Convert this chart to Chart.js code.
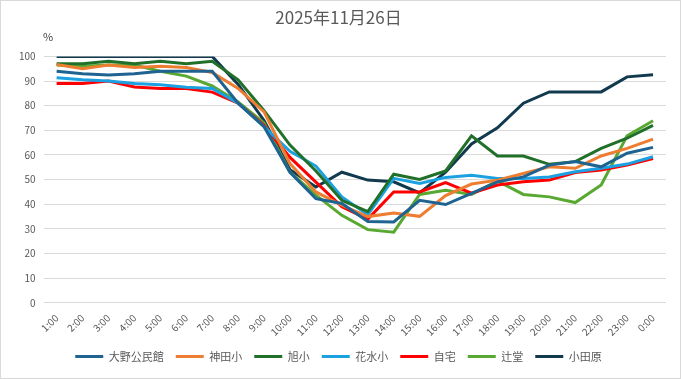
<!DOCTYPE html>
<html>
<head>
<meta charset="utf-8">
<script src="https://cdn.jsdelivr.net/npm/chart.js@4"></script>
<style>
  body { margin: 0; background: #fff; }
  #wrap { width: 681px; height: 379px; box-sizing: border-box; border: 1px solid #d9d9d9; }
</style>
</head>
<body>
<div id="wrap"><canvas id="chart" width="679" height="377"></canvas></div>
<script>
// hours along the x axis
var hours = ['1:00','2:00','3:00','4:00','5:00','6:00','7:00','8:00','9:00','10:00','11:00','12:00',
             '13:00','14:00','15:00','16:00','17:00','18:00','19:00','20:00','21:00','22:00','23:00','0:00']

var names = ['大野公民館', '神田小', '旭小', '花水小', '自宅', '辻堂', '小田原']

var ono      = [94, 93, 92.5, 93, 94, 94, 94, 81, 71.5, 53, 42.3, 40.3, 33, 32.8, 41.6, 39.9, 44.4, 49.1, 51.1, 55.9, 57.3, 55.2, 60.7, 63.1]
var kanda    = [96.7, 95, 96.5, 95.5, 96, 95.5, 93.5, 87, 77.5, 56.5, 45, 39.6, 35, 36.5, 35.1, 43.5, 48.2, 49.8, 52.5, 55.2, 54.6, 59.6, 62.7, 66.4]
var asahi    = [97, 97, 98, 97, 98, 97, 98, 90.5, 78, 64, 53.5, 41.6, 37, 52.2, 50.1, 53.5, 67.8, 59.6, 59.6, 56.2, 57.3, 62.7, 66.8, 72]
var hanamizu = [91.3, 90.5, 90, 89, 88.5, 87.5, 87, 81, 71.5, 61.5, 55.5, 43, 35.8, 50.5, 48.4, 50.9, 51.8, 50.5, 50.5, 51.1, 53.2, 54.6, 56.3, 59.3]
var home     = [89, 89, 90, 87.6, 87, 87, 85.5, 81, 72, 59, 49, 39, 34, 45, 45, 48.8, 44.5, 47.8, 49.1, 49.8, 52.9, 53.9, 55.9, 58.6]
var tsujido  = [96.5, 96, 96.5, 96.5, 94, 92, 88, 81.5, 73, 53, 43.7, 35.5, 29.7, 28.7, 44, 45.7, 44, 49.5, 44, 43, 40.7, 47.8, 67.8, 73.9]
var odawara  = [100, 100, 100, 100, 100, 100, 100, 88.6, 74, 54, 47, 53, 49.8, 49.1, 44.6, 53, 64.5, 71, 81, 85.6, 85.6, 85.6, 91.7, 92.6]

var series = [ono, kanda, asahi, hanamizu, home, tsujido, odawara]
var colors = ['#1f6391', '#ed7d31', '#21702a', '#1ba1e2', '#ff0000', '#58a832', '#123a4f']

var textColor = '#595959'
var fontFamily = '"Noto Sans CJK JP", "Noto Sans", sans-serif'

var datasets = []
for (let i in series) {
  datasets.push({
    label: names[i],
    data: series[i],
    borderColor: colors[i],
    backgroundColor: colors[i],
    borderWidth: 3,
    pointRadius: 0,
    tension: 0,
    fill: false
  })
}

// the small "%" unit above the y axis
var unitLabel = {
  id: 'unitLabel',
  afterDraw: function(chart) {
    var ctx = chart.ctx
    ctx.save()
    ctx.fillStyle = '#404040'
    ctx.font = '11px ' + fontFamily
    ctx.textAlign = 'center'
    ctx.textBaseline = 'middle'
    ctx.fillText('%', 47, 36)
    ctx.restore()
  }
}

new Chart(document.getElementById('chart'), {
  type: 'line',
  data: { labels: hours, datasets: datasets },
  plugins: [unitLabel],
  options: {
    responsive: false,
    animation: false,
    layout: { padding: { left: 10, right: 14, top: 0, bottom: 6 } },
    plugins: {
      title: {
        display: true,
        text: '2025年11月26日',
        color: textColor,
        font: { family: fontFamily, size: 17, weight: 'normal' },
        padding: { top: 6, bottom: 29 }
      },
      legend: {
        position: 'bottom',
        labels: {
          usePointStyle: true,
          pointStyle: 'line',
          pointStyleWidth: 28,
          color: textColor,
          font: { family: fontFamily, size: 11 },
          padding: 12
        }
      },
      tooltip: { enabled: false }
    },
    scales: {
      x: {
        offset: true,
        grid: { display: false },
        border: { display: false },
        ticks: {
          color: textColor,
          font: { family: fontFamily, size: 10 },
          padding: 1,
          minRotation: 45,
          maxRotation: 45,
          autoSkip: false
        }
      },
      y: {
        min: 0,
        max: 100,
        border: { display: false },
        grid: { color: '#d9d9d9', lineWidth: 1, drawTicks: false },
        ticks: {
          stepSize: 10,
          padding: 8,
          color: textColor,
          font: { family: fontFamily, size: 10 }
        }
      }
    }
  }
})
</script>
</body>
</html>
